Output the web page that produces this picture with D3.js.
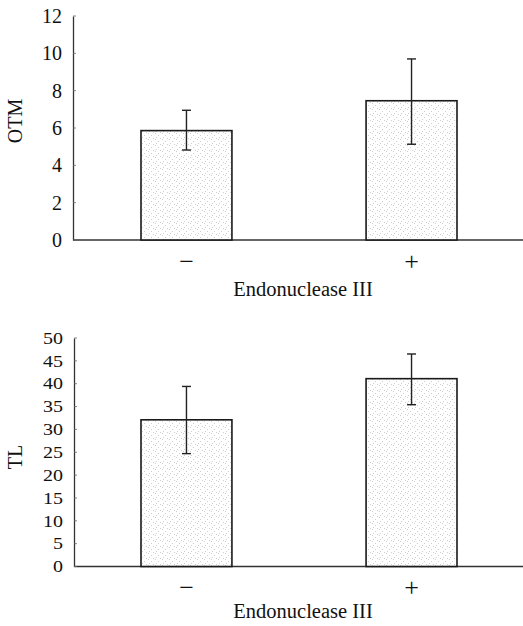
<!DOCTYPE html>
<html><head><meta charset="utf-8">
<script src="https://cdn.jsdelivr.net/npm/d3@7"></script>
<style>body{margin:0;background:#fff}svg{display:block}</style>
</head><body><svg id="c" width="523" height="626"></svg>
<script>
const categories = ["−", "+"];
const xTitle = "Endonuclease III";
const otmMean = [5.86, 7.46];
const otmLow = [4.82, 5.13];
const otmHigh = [6.95, 9.70];
const otmTicks = [0, 2, 4, 6, 8, 10, 12];
const tlMean = [32.1, 41.1];
const tlLow = [24.7, 35.4];
const tlHigh = [39.4, 46.5];
const tlTicks = [0, 5, 10, 15, 20, 25, 30, 35, 40, 45, 50];

const FONT = "'Liberation Serif', 'Times New Roman', Times, serif";
const svg = d3.select("#c");
const defs = svg.append("defs");
const pat = defs.append("pattern").attr("id","stip").attr("patternUnits","userSpaceOnUse")
  .attr("width",7).attr("height",6);
pat.append("rect").attr("width",7).attr("height",6).attr("fill","#fff");
[[1,1],[4,3],[2,5],[6,0]].forEach(p=>pat.append("rect").attr("x",p[0]).attr("y",p[1]).attr("width",1).attr("height",1).attr("fill","#cfcfcf"));

function panel(cfg){
  const g = svg.append("g");
  const y = d3.scaleLinear().domain([0, cfg.max]).range([cfg.y0, cfg.y1]);
  const x = d3.scaleBand().domain(categories).range([141, 457]).paddingInner(0.596).paddingOuter(0);
  g.append("line").attr("x1",cfg.xl).attr("x2",523).attr("y1",y(0)).attr("y2",y(0)).attr("stroke","#333").attr("stroke-width",1.3);
  const ax = g.append("g").attr("transform",`translate(${cfg.xl},0)`)
    .call(d3.axisLeft(y).tickValues(cfg.ticks).tickSize(0).tickPadding(11).tickFormat(d3.format("d")));
  ax.attr("font-family",null).attr("font-size",null);
  ax.select(".domain").attr("stroke","#333").attr("stroke-width",1.3);
  ax.selectAll("text").style("font-family",FONT).style("font-size",cfg.fs+"px").attr("fill","#111")
    .attr("transform",`scale(1,${cfg.sy})`);
  g.selectAll(".it").data(cfg.ticks).join("line").attr("x1",cfg.xl).attr("x2",cfg.xl+3)
    .attr("y1",d=>y(d)).attr("y2",d=>y(d)).attr("stroke","#666").attr("stroke-width",0.8);
  g.selectAll(".bar").data(cfg.mean).join("rect")
    .attr("x",(d,i)=>x(categories[i])).attr("width",x.bandwidth())
    .attr("y",d=>y(d)).attr("height",d=>y(0)-y(d))
    .attr("fill","url(#stip)").attr("stroke","#1a1a1a").attr("stroke-width",1.6);
  cfg.mean.forEach((m,i)=>{
    const cx = x(categories[i]) + x.bandwidth()/2;
    g.append("line").attr("x1",cx).attr("x2",cx).attr("y1",y(cfg.high[i])).attr("y2",y(cfg.low[i])).attr("stroke","#222").attr("stroke-width",1.4);
    [cfg.high[i], cfg.low[i]].forEach(v=>g.append("line").attr("x1",cx-4.5).attr("x2",cx+4.5).attr("y1",y(v)).attr("y2",y(v)).attr("stroke","#222").attr("stroke-width",1.4));
  });
  g.selectAll(".cl").data(categories).join("text")
    .attr("x",d=>x(d)+x.bandwidth()/2).attr("y",y(0)+cfg.catDy)
    .attr("text-anchor","middle").style("font-family",FONT).style("font-size","26px").attr("fill","#111").text(d=>d);
  g.append("text").attr("x",303).attr("y",y(0)+cfg.titleDy).attr("text-anchor","middle")
    .style("font-family",FONT).style("font-size","20.5px").attr("fill","#111").text(xTitle);
  g.append("text").attr("transform",`translate(22,${cfg.ylabY}) rotate(-90)`).attr("text-anchor","middle")
    .style("font-family",FONT).style("font-size","20px").attr("fill","#111").text(cfg.ylab);
}

panel({mean:otmMean, low:otmLow, high:otmHigh, ticks:otmTicks, max:12, y0:240, y1:16, xl:73, fs:20, sy:1, ylab:"OTM", ylabY:121, catDy:30, titleDy:56});
panel({mean:tlMean, low:tlLow, high:tlHigh, ticks:tlTicks, max:50, y0:566.5, y1:338, xl:74, fs:20, sy:0.82, ylab:"TL", ylabY:457, catDy:29, titleDy:51});
</script></body></html>
